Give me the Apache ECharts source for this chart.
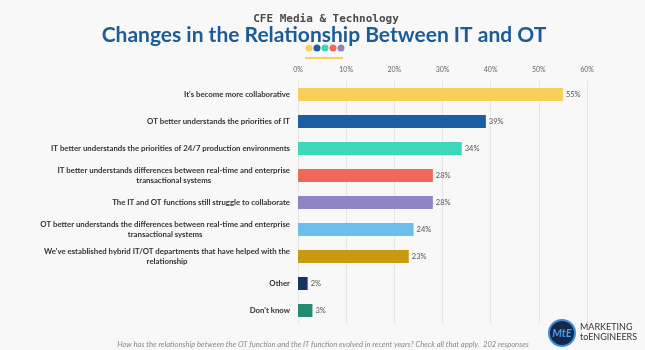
<!doctype html>
<html lang="en">
<head>
    <meta charset="utf-8">
    <title>Changes in the Relationship Between IT and OT</title>
    <script src="https://cdn.jsdelivr.net/npm/echarts@6/dist/echarts.min.js"></script>
    <style>
        html, body {margin: 0; padding: 0; background: #f8f8f8;}
        #chart {width: 645px; height: 350px;}
    </style>
</head>
<body>
<div id="chart"></div>
<script>
    // survey answers, top to bottom
    const categories = [
        "It's become more collaborative",
        'OT better understands the priorities of IT',
        'IT better understands the priorities of 24/7 production environments',
        'IT better understands differences between real-time and enterprise\ntransactional systems',
        'The IT and OT functions still struggle to collaborate',
        'OT better understands the differences between real-time and enterprise\ntransactional systems',
        "We've established hybrid IT/OT departments that have helped with the\nrelationship",
        'Other',
        "Don't know"
    ];
    const percents = [55, 39, 34, 28, 28, 24, 23, 2, 3];
    const xTicks = [0, 10, 20, 30, 40, 50, 60];

    const barColors = ['#f8cf58', '#1c5ea4', '#3ed8b8', '#f3665a', '#8e86c4',
        '#6cbfec', '#c99a10', '#17365f', '#248a72'];

    let chart = echarts.init(document.getElementById('chart'));

    chart.setOption({
        backgroundColor: '#f8f8f8',
        animation: false,
        title: [{
            text: 'CFE Media & Technology',
            left: 321, top: 9, textAlign: 'center',
            textStyle: {fontFamily: 'DejaVu Sans Mono', fontSize: 11, fontWeight: 'bold', color: '#4a4a4a'}
        }, {
            text: 'Changes in the Relationship Between IT and OT',
            left: 319, top: 20, textAlign: 'center',
            textStyle: {fontFamily: 'Lato', fontSize: 21, fontWeight: 'bold', color: '#1b5b97'}
        }, {
            text: 'How has the relationship between the OT function and the IT function evolved in recent years? Check all that apply.  202 responses',
            left: 318, top: 336, textAlign: 'center',
            textStyle: {fontFamily: 'Lato', fontSize: 7.6, fontStyle: 'italic', fontWeight: 'normal', color: '#8a8a8a'}
        }],
        grid: {left: 298, right: 58, top: 81, bottom: 26},
        xAxis: {
            type: 'value',
            position: 'top',
            min: xTicks[0],
            max: xTicks[xTicks.length - 1],
            interval: 10,
            axisLine: {show: false},
            axisTick: {show: false},
            axisLabel: {formatter: '{value}%', fontSize: 7, color: '#666', margin: 8, fontFamily: 'Lato'},
            splitLine: {lineStyle: {color: '#e6e6e6', width: 1}}
        },
        yAxis: {
            type: 'category',
            inverse: true,
            data: categories,
            axisLine: {show: false},
            axisTick: {show: false},
            axisLabel: {
                margin: 8,
                formatter: function (v) {
                    return v.split('\n').map(function (s) { return '{a|' + s + '}'; }).join('\n');
                },
                rich: {
                    a: {align: 'center', fontSize: 7.8, fontWeight: 'bold', color: '#333', fontFamily: 'Lato', lineHeight: 10}
                }
            }
        },
        series: [{
            type: 'bar',
            barWidth: 13,
            data: percents.map(function (v, i) {
                return {value: v, itemStyle: {color: barColors[i]}};
            }),
            label: {
                show: true, position: 'right', distance: 3,
                formatter: '{c}%', fontSize: 7.5, color: '#555', fontFamily: 'Lato'
            }
        }],
        graphic: [
            // dots under the title
            {type: 'circle', shape: {cx: 309, cy: 48, r: 3.5}, style: {fill: '#f8cf58'}},
            {type: 'circle', shape: {cx: 317, cy: 48, r: 3.5}, style: {fill: '#1c5ea4'}},
            {type: 'circle', shape: {cx: 325, cy: 48, r: 3.5}, style: {fill: '#3ed8b8'}},
            {type: 'circle', shape: {cx: 333, cy: 48, r: 3.5}, style: {fill: '#f3665a'}},
            {type: 'circle', shape: {cx: 341, cy: 48, r: 3.5}, style: {fill: '#8e86c4'}},
            {type: 'rect', shape: {x: 305, y: 57, width: 38, height: 2}, style: {fill: '#f8cf58'}},
            // logo
            {type: 'circle', shape: {cx: 562, cy: 333, r: 13}, style: {fill: '#14284d', stroke: '#3d8ed6', lineWidth: 2}},
            {type: 'text', x: 562, y: 333, style: {text: 'MtE', fill: '#4d9be0', font: 'italic bold 11px Lato', align: 'center', verticalAlign: 'middle'}},
            {type: 'text', x: 580, y: 323, style: {text: 'MARKETING', fill: '#333', font: '9px Lato'}},
            {type: 'text', x: 580, y: 333, style: {text: 'toENGINEERS', fill: '#333', font: '9px Lato'}}
        ]
    });
</script>
</body>
</html>
